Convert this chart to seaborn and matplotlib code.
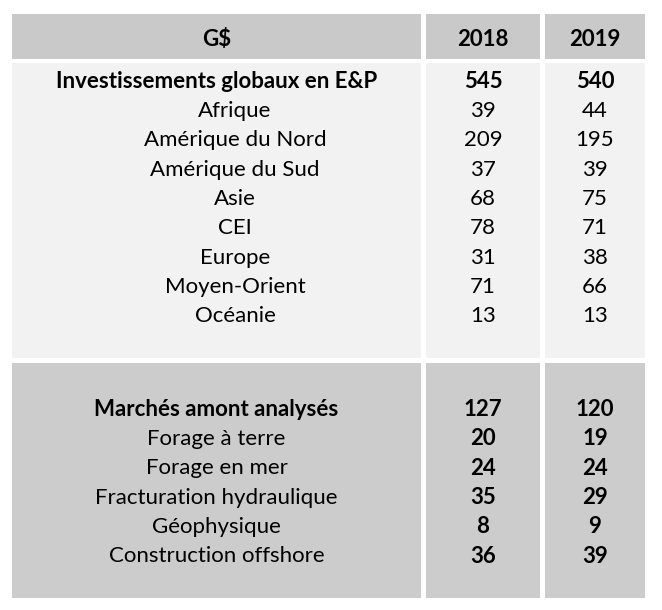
import matplotlib
matplotlib.use("Agg")
import matplotlib.pyplot as plt
import seaborn as sns
from matplotlib.patches import Rectangle

header = ["G$", "2018", "2019"]
section1_labels = ["Investissements globaux en E&P", "Afrique", "Amérique du Nord",
                   "Amérique du Sud", "Asie", "CEI", "Europe", "Moyen-Orient", "Océanie"]
section1_2018 = [545, 39, 209, 37, 68, 78, 31, 71, 13]
section1_2019 = [540, 44, 195, 39, 75, 71, 38, 66, 13]
section2_labels = ["Marchés amont analysés", "Forage à terre", "Forage en mer",
                   "Fracturation hydraulique", "Géophysique", "Construction offshore"]
section2_2018 = [127, 20, 24, 35, 8, 36]
section2_2019 = [120, 19, 24, 29, 9, 39]

sns.set_theme(style="white")
plt.rcParams['font.family'] = ['Lato', 'DejaVu Sans']

fig = plt.figure(figsize=(6.62, 6.10), dpi=100)
ax = fig.add_axes([0, 0, 1, 1])
ax.set_xlim(0, 662)
ax.set_ylim(610, 0)
ax.axis("off")

cols = [(12, 421), (426, 540), (545, 645)]
panels = [(14, 59, "#C9C9C9"), (63, 358, "#F2F2F2"), (363, 598, "#CCCCCC")]
for (y0, y1, c) in panels:
    for (x0, x1) in cols:
        ax.add_patch(Rectangle((x0, y0), x1 - x0, y1 - y0, facecolor=c, edgecolor="none"))

fs = 16
cx = [(a + b) / 2 for a, b in cols]
for i, h in enumerate(header):
    ax.text(cx[i], 39.5, h, ha="center", va="center", fontsize=fs, fontweight="bold", color="black")

y = 81.5
step = 29.35
for i, lab in enumerate(section1_labels):
    w = "bold" if i == 0 else "normal"
    yy = y + i * step
    lx = cx[0] if i == 0 else 235
    ax.text(lx, yy, lab, ha="center", va="center", fontsize=fs, fontweight=w, color="black")
    ax.text(cx[1], yy, str(section1_2018[i]), ha="center", va="center", fontsize=fs, fontweight=w, color="black")
    ax.text(cx[2], yy, str(section1_2019[i]), ha="center", va="center", fontsize=fs, fontweight=w, color="black")

y = 409.5
for i, lab in enumerate(section2_labels):
    w = "bold" if i == 0 else "normal"
    yy = y + i * step
    ax.text(cx[0], yy, lab, ha="center", va="center", fontsize=fs, fontweight=w, color="black")
    ax.text(cx[1], yy, str(section2_2018[i]), ha="center", va="center", fontsize=fs, fontweight="bold", color="black")
    ax.text(cx[2], yy, str(section2_2019[i]), ha="center", va="center", fontsize=fs, fontweight="bold", color="black")

fig.savefig("out.png", dpi=100)
